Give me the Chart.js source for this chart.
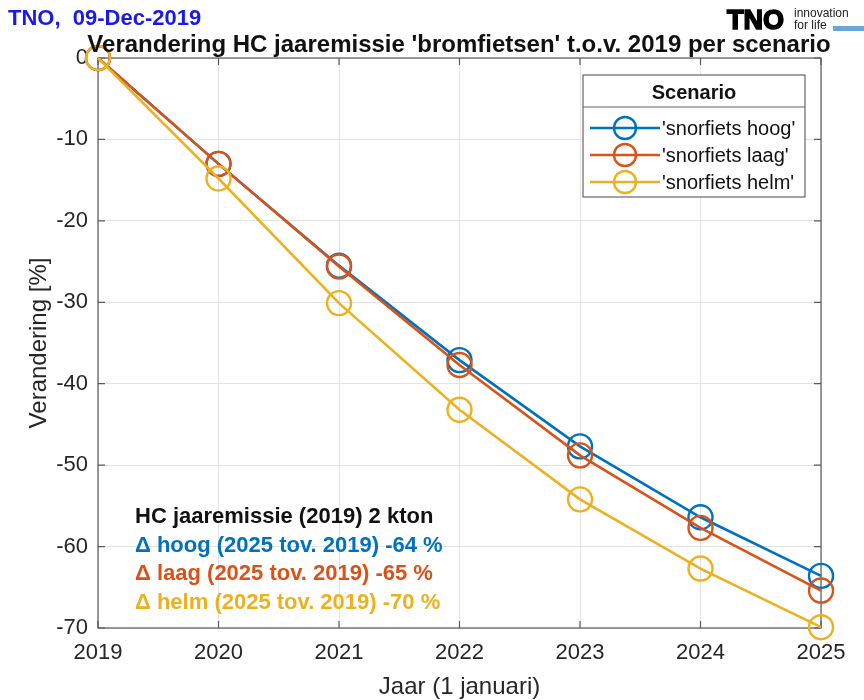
<!DOCTYPE html>
<html>
<head>
<meta charset="utf-8">
<script src="https://cdn.jsdelivr.net/npm/chart.js@4.4.0/dist/chart.umd.min.js"></script>
<style>
  html, body { margin: 0; padding: 0; background: #fff; }
  #wrap { width: 864px; height: 700px; }
</style>
</head>
<body>
<div id="wrap"><canvas id="myChart" width="864" height="700"></canvas></div>
<script>
// jaren en procentuele verandering t.o.v. 2019
const years = ["2019", "2020", "2021", "2022", "2023", "2024", "2025"];
const hoog = [0, -13.0, -25.5, -37.1, -47.7, -56.4, -63.6];
const laag = [0, -13.0, -25.6, -37.7, -48.8, -57.7, -65.4];
const helm = [0, -14.8, -30.1, -43.2, -54.2, -62.7, -69.9];
const yTicks = [0, -10, -20, -30, -40, -50, -60, -70];

const seriesNames = ["'snorfiets hoog'", "'snorfiets laag'", "'snorfiets helm'"];
const seriesColors = ["#0072BD", "#D95319", "#EDB120"];

const infoLines = [
  { text: "HC jaaremissie (2019) 2 kton", color: "#111" },
  { text: "\u0394 hoog (2025 tov. 2019) -64 %", color: "#0072BD" },
  { text: "\u0394 laag (2025 tov. 2019) -65 %", color: "#D95319" },
  { text: "\u0394 helm (2025 tov. 2019) -70 %", color: "#EDB120" },
];

const FONT = "'Liberation Sans', Arial, sans-serif";
const AXIS = "#5a5a5a";

function ds(label, data, color, order) {
  return {
    label: label,
    data: data,
    order: order,
    borderColor: color,
    backgroundColor: color,
    borderWidth: 2.6,
    pointRadius: 12,
    pointHoverRadius: 12,
    pointBorderWidth: 2.4,
    pointBackgroundColor: "rgba(0,0,0,0)",
    pointBorderColor: color,
    tension: 0,
    clip: false,
  };
}

// assen-kader, binnenwaartse ticks, teksten en legenda
const decor = {
  id: "decor",
  beforeDatasetsDraw(chart) {
    const { ctx, chartArea: a, scales } = chart;
    ctx.save();
    ctx.strokeStyle = AXIS;
    ctx.lineWidth = 1.2;
    ctx.strokeRect(a.left, a.top, a.right - a.left, a.bottom - a.top);
    ctx.beginPath();
    years.forEach((y, i) => {
      const x = scales.x.getPixelForValue(i);
      ctx.moveTo(x, a.bottom); ctx.lineTo(x, a.bottom - 7);
      ctx.moveTo(x, a.top); ctx.lineTo(x, a.top + 7);
    });
    yTicks.forEach(v => {
      const y = scales.y.getPixelForValue(v);
      ctx.moveTo(a.left, y); ctx.lineTo(a.left + 7, y);
      ctx.moveTo(a.right, y); ctx.lineTo(a.right - 7, y);
    });
    ctx.stroke();
    ctx.restore();
  },
  afterDatasetsDraw(chart) {
    const { ctx, chartArea: a } = chart;
    ctx.save();
    ctx.textBaseline = "alphabetic";
    ctx.textAlign = "left";

    // kop
    ctx.fillStyle = "#1a1ae6";
    ctx.font = "bold 22px " + FONT;
    ctx.fillText("TNO,  09-Dec-2019", 8, 25);

    ctx.fillStyle = "#111";
    ctx.font = "bold 24px " + FONT;
    ctx.textAlign = "center";
    ctx.fillText("Verandering HC jaaremissie 'bromfietsen' t.o.v. 2019 per scenario", 459, 52);

    // logo
    ctx.textAlign = "left";
    ctx.font = "bold 27px " + FONT;
    ctx.fillStyle = "#000";
    ctx.strokeStyle = "#000";
    ctx.lineWidth = 1.6;
    ctx.strokeText("TNO", 727, 29);
    ctx.fillText("TNO", 727, 29);
    ctx.font = "12px " + FONT;
    ctx.fillStyle = "#222";
    ctx.fillText("innovation", 794, 17);
    ctx.fillText("for life", 794, 29);
    ctx.fillStyle = "#6aa6d8";
    ctx.fillRect(833, 26, 31, 5);

    // astitels
    ctx.fillStyle = "#262626";
    ctx.font = "24px " + FONT;
    ctx.textAlign = "center";
    ctx.fillText("Jaar (1 januari)", (a.left + a.right) / 2, 694);
    ctx.save();
    ctx.translate(46, (a.top + a.bottom) / 2);
    ctx.rotate(-Math.PI / 2);
    ctx.fillText("Verandering [%]", 0, 0);
    ctx.restore();

    // info-tekst linksonder
    ctx.textAlign = "left";
    ctx.font = "bold 22px " + FONT;
    infoLines.forEach((l, i) => {
      ctx.fillStyle = l.color;
      ctx.fillText(l.text, 135, 523 + i * 28.5);
    });

    // legenda
    const lx = 583, ly = 75, lw = 222, lh = 122;
    ctx.fillStyle = "#fff";
    ctx.fillRect(lx, ly, lw, lh);
    ctx.strokeStyle = "#666";
    ctx.lineWidth = 1.2;
    ctx.strokeRect(lx, ly, lw, lh);
    ctx.beginPath();
    ctx.moveTo(lx, ly + 32); ctx.lineTo(lx + lw, ly + 32);
    ctx.stroke();
    ctx.fillStyle = "#111";
    ctx.font = "bold 20px " + FONT;
    ctx.textAlign = "center";
    ctx.fillText("Scenario", lx + lw / 2, ly + 24);
    ctx.textAlign = "left";
    ctx.font = "20px " + FONT;
    seriesNames.forEach((name, i) => {
      const cy = ly + 53 + i * 27;
      ctx.strokeStyle = seriesColors[i];
      ctx.lineWidth = 2.6;
      ctx.beginPath();
      ctx.moveTo(lx + 7, cy); ctx.lineTo(lx + 77, cy);
      ctx.stroke();
      ctx.lineWidth = 2.4;
      ctx.beginPath();
      ctx.arc(lx + 42, cy, 11, 0, Math.PI * 2);
      ctx.stroke();
      ctx.fillStyle = "#111";
      ctx.fillText(name, lx + 79, cy + 7);
    });
    ctx.restore();
  },
};

new Chart("myChart", {
  type: "line",
  data: {
    labels: years,
    datasets: [
      ds(seriesNames[0], hoog, seriesColors[0], 3),
      ds(seriesNames[1], laag, seriesColors[1], 2),
      ds(seriesNames[2], helm, seriesColors[2], 1),
    ],
  },
  options: {
    responsive: false,
    animation: false,
    layout: { padding: { top: 58, right: 43, left: 0, bottom: 0 } },
    plugins: { legend: { display: false }, title: { display: false }, tooltip: { enabled: false } },
    scales: {
      x: {
        offset: false,
        grid: { color: "#e3e3e3", drawTicks: false },
        border: { display: false },
        ticks: { color: "#262626", font: { family: FONT, size: 22 }, padding: 12, maxRotation: 0 },
        afterFit(scale) { scale.height = 72; },
      },
      y: {
        min: -70,
        max: 0,
        grid: { color: "#e3e3e3", drawTicks: false },
        border: { display: false },
        afterBuildTicks(scale) { scale.ticks = yTicks.map(v => ({ value: v })); },
        ticks: { color: "#262626", font: { family: FONT, size: 22 }, padding: 10 },
        afterFit(scale) { scale.width = 98; },
      },
    },
  },
  plugins: [decor],
});
</script>
</body>
</html>
